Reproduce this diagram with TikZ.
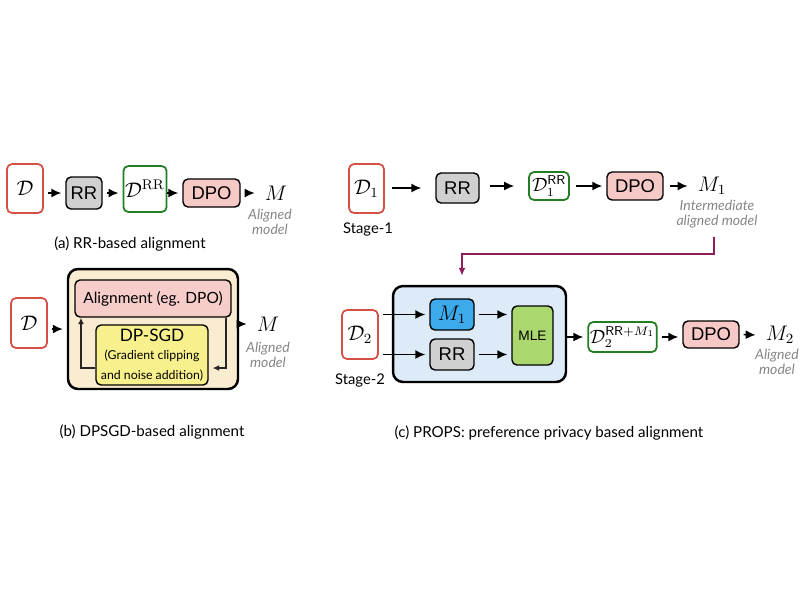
\documentclass[tikz,border=0pt]{standalone}
\usepackage{amsmath}
\usepackage{amssymb}
\usepackage{fontspec}
\newfontfamily\capfont{Lato}
\newfontfamily\boxfont{Liberation Sans}
\usetikzlibrary{calc}
\usetikzlibrary{arrows.meta}

\definecolor{dred}{RGB}{214,80,70}
\definecolor{dgreen}{RGB}{35,125,35}
\definecolor{rrgray}{RGB}{208,208,208}
\definecolor{dpopink}{RGB}{246,200,198}
\definecolor{mblue}{RGB}{60,170,235}
\definecolor{mlegreen}{RGB}{170,215,110}
\definecolor{outblue}{RGB}{221,235,248}
\definecolor{outtan}{RGB}{250,236,208}
\definecolor{sgdyellow}{RGB}{248,240,140}
\definecolor{alignpink}{RGB}{246,205,200}
\definecolor{purp}{RGB}{140,30,90}
\definecolor{txtgray}{RGB}{135,135,135}

\begin{document}
\begin{tikzpicture}[x=0.02cm,y=-0.02cm,
    blk/.style={draw, rounded corners=1mm, line width=0.8pt, inner sep=1pt, font=\boxfont\fontsize{10.5}{12}\selectfont},
    dset/.style={blk, draw=dred, fill=white, line width=1pt},
    dnew/.style={blk, draw=dgreen, fill=white, line width=1pt},
    rrbox/.style={blk, fill=rrgray},
    dpobox/.style={blk, fill=dpopink},
    outer/.style={draw, rounded corners=2mm, line width=1.4pt},
    arr/.style={-{Latex[length=2mm,width=1.8mm]}, line width=0.9pt, shorten <=0.8mm, shorten >=0.8mm},
    fb/.style={-{Latex[length=1.3mm,width=1.2mm]}, line width=0.7pt, black!85},
    lbl/.style={font=\capfont\itshape\fontsize{8}{8.6}\selectfont, text=txtgray, align=center},
    captxt/.style={font=\capfont\fontsize{8.6}{10}\selectfont},
    stage/.style={font=\capfont\fontsize{8.4}{10}\selectfont}]
    \useasboundingbox (0,0) rectangle (800,600);

    % (a) RR-based alignment
    \node[dset, minimum width=7.2mm, minimum height=9.8mm] (Da) at (25,188.5) {\large$\mathcal{D}$};
    \node[rrbox, minimum width=7.2mm, minimum height=6.4mm] (RRa) at (84,193) {RR};
    \node[dnew, minimum width=8mm, minimum height=9.2mm] (DRRa) at (145,189) {\large$\mathcal{D}^{\mathrm{RR}}$};
    \node[dpobox, minimum width=11.4mm, minimum height=5.6mm] (DPOa) at (211.5,193) {DPO};
    \node (Ma) at (276,193) {\large$M$};
    \node[lbl] (La) at (270,222) {Aligned\\model};
    \node[captxt] (Ca) at (130,244) {(a) RR-based alignment};
    \draw[arr] (Da.east |- RRa.west) -- (RRa.west);
    \draw[arr] (RRa.east) -- (RRa.east -| DRRa.west);
    \draw[arr, shorten <=0pt] (DRRa.east |- DPOa.west) -- (DPOa.west);
    \draw[arr] (DPOa.east) -- (Ma.west);

    % (b) DPSGD-based alignment
    \node[dset, minimum width=7.2mm, minimum height=10mm] (Db) at (29,323) {\large$\mathcal{D}$};
    \node[outer, fill=outtan, minimum width=34mm, minimum height=24mm] (Ob) at (153,329) {};
    \node[blk, fill=alignpink, font=\capfont\fontsize{8.8}{10}\selectfont, minimum width=31.2mm, minimum height=7.4mm] (Al) at (153,298.5) {Alignment (eg. DPO)};
    \node[blk, fill=sgdyellow, align=center, font=\capfont, minimum width=22.4mm, minimum height=12mm] (Sgd) at (152,355)
        {{\fontsize{9.8}{11}\selectfont DP-SGD}\\[-1.5pt]{\fontsize{7}{8}\selectfont (Gradient clipping}\\[-1pt]{\fontsize{7}{8}\selectfont and noise addition)}};
    \node (Mb) at (268,324) {\large$M$};
    \node[lbl] (Lb) at (268,355) {Aligned\\model};
    \node[captxt] (Cb) at (152,432) {(b) DPSGD-based alignment};
    \draw[arr] (Db.east |- Ob.west) -- (Ob.west);
    \draw[arr, shorten <=0.2mm] (Ob.east |- Mb.west) -- (Mb.west);
    \coordinate (fr) at (226,368);
    \coordinate (fl) at (81,368);
    \draw[fb] (Al.south -| fr) -- (fr) -- ([xshift=0.8mm]Sgd.east |- fr);
    \draw[fb] (Sgd.west |- fl) -- (fl) -- (fl |- Al.south);

    % (c) PROPS
    \node[dset, minimum width=7mm, minimum height=9.8mm] (D1) at (366.5,188.5) {\large$\mathcal{D}_1$};
    \node[stage] (S1) at (368,229) {Stage-1};
    \node[rrbox, minimum width=8.6mm, minimum height=6mm] (RR1) at (457.5,188) {RR};
    \node[dnew, minimum width=8mm, minimum height=5.6mm] (DRR1) at (549,186) {$\mathcal{D}_1^{\mathsf{RR}}$};
    \node[dpobox, minimum width=11.2mm, minimum height=5.6mm] (DPO1) at (635,186) {DPO};
    \node (M1) at (712,186) {\large$M_1$};
    \node[lbl] (L1) at (717,214) {Intermediate\\aligned model};
    \draw[arr, shorten <=1.4mm, shorten >=2.8mm] (D1.east |- RR1.west) -- (RR1.west);
    \draw[arr, shorten <=2mm, shorten >=2.8mm] (RR1.east |- DRR1.west) -- (DRR1.west);
    \draw[arr, shorten <=1.2mm] (DRR1.east) -- (DPO1.west);
    \draw[arr, shorten <=1.2mm] (DPO1.east) -- (M1.west);

    \node[outer, fill=outblue, minimum width=34.6mm, minimum height=19.2mm] (Oc) at (479.5,334) {};
    \node[dset, minimum width=7.2mm, minimum height=9.8mm] (D2) at (360,334.5) {\large$\mathcal{D}_2$};
    \node[stage] (S2) at (360,380) {Stage-2};
    \node[blk, fill=mblue, minimum width=8.8mm, minimum height=6.2mm] (M1in) at (452,314.5) {\large$M_1$};
    \node[rrbox, minimum width=8.8mm, minimum height=6.2mm] (RRin) at (452,354.5) {RR};
    \node[blk, fill=mlegreen, font=\boxfont\fontsize{7.8}{9}\selectfont, minimum width=8.2mm, minimum height=11.8mm] (MLE) at (532.5,335.5) {MLE};
    \node[dnew, minimum width=12.2mm, minimum height=6mm] (DRR2) at (622.5,337) {$\mathcal{D}_2^{\mathsf{RR}+M_1}$};
    \node[dpobox, minimum width=11.2mm, minimum height=5.4mm] (DPO2) at (711,334.5) {DPO};
    \node (M2) at (780,335) {\large$M_2$};
    \node[lbl] (L2) at (777,362) {Aligned\\model};
    \node[captxt] (Cc) at (549,433) {(c) PROPS: preference privacy based alignment};
    \draw[arr] (D2.east |- M1in.west) -- (M1in.west);
    \draw[arr] (D2.east |- RRin.west) -- (RRin.west);
    \draw[arr] (M1in.east) -- (M1in.east -| MLE.west);
    \draw[arr] (RRin.east) -- (RRin.east -| MLE.west);
    \draw[arr, shorten <=0pt] (Oc.east |- DRR2.west) -- (DRR2.west);
    \draw[arr] (DRR2.east) -- (DRR2.east -| DPO2.west);
    \draw[arr] (DPO2.east) -- (M2.west);

    % stage-1 output feeds stage-2
    \coordinate (drop) at (714,237);
    \coordinate (bend) at (462,254);
    \draw[-{Latex[length=1.6mm,width=1.4mm]}, purp, line width=0.9pt, shorten >=1.8mm] (drop) |- (bend) -- (bend |- Oc.north);
\end{tikzpicture}
\end{document}
